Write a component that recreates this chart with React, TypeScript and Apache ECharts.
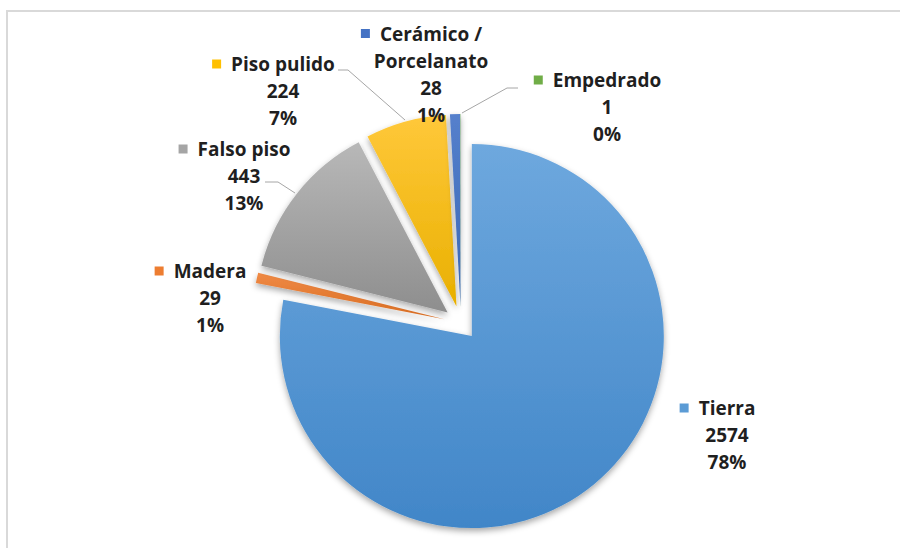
import React, { useEffect, useRef } from "react";
import * as echarts from "echarts";

const categories = ["Tierra", "Madera", "Falso piso", "Piso pulido", "Cerámico /\nPorcelanato", "Empedrado"];
const values = [2574, 29, 443, 224, 28, 1];
const colors = ["#5B9BD5", "#ED7D31", "#A5A5A5", "#FFC000", "#4472C4", "#70AD47"];
const topColors = ["#6ea8de", "#f08a45", "#b8b8b8", "#ffc83a", "#5580cc", "#7dba55"];
const bottomColors = ["#4186c8", "#d96d22", "#8e8e8e", "#e9b000", "#3a66b5", "#5f9a3b"];

// label block centres (layout only)
const labelPos: [number, number][] = [
  [727, 435],
  [210, 298],
  [244, 176],
  [283, 91],
  [431, 74],
  [607, 107],
];
const leaderLines: ([number, number][] | null)[] = [
  null,
  null,
  [[295, 193], [278, 182], [265, 182]],
  [[405, 120], [348, 70], [338, 70]],
  null,
  [[462, 113], [507, 88], [518, 88]],
];

const FONT = "'Open Sans'";
const CENTER: [number, number] = [461, 323];
const RADIUS = 192;

export default function App() {
  const ref = useRef<HTMLDivElement>(null);
  useEffect(() => {
    if (!ref.current) return;
    const chart = echarts.init(ref.current, null, { renderer: "svg" });
    const rich: any = {
      t: { fontFamily: FONT, fontWeight: "bold", fontSize: 19, color: "#1f1f1f", lineHeight: 27, align: "center" },
      g: { width: 10, lineHeight: 27, align: "center", fontSize: 10 },
      g2: { width: 19, lineHeight: 27, align: "center", fontSize: 10 },
    };
    colors.forEach((c, i) => {
      rich["m" + i] = { width: 9, height: 9, backgroundColor: c, lineHeight: 27, align: "center", fontSize: 9 };
    });
    const sliceData = categories.map((name, i) => ({
      name,
      value: values[i],
      selected: true,
      itemStyle: {
        color: new echarts.graphic.LinearGradient(0, 0, 0, 1, [
          { offset: 0, color: topColors[i] },
          { offset: 1, color: bottomColors[i] },
        ]),
      },
    }));
    const labelData = categories.map((name, i) => ({
      name,
      value: values[i],
      labelLine: { show: leaderLines[i] != null },
    }));
    chart.setOption({
      animation: false,
      backgroundColor: "#ffffff",
      graphic: [
        {
          type: "rect",
          shape: { x: 7, y: 11, width: 1000, height: 1000 },
          style: { fill: "none", stroke: "#d9d9d9", lineWidth: 2 },
          silent: true,
        },
      ],
      series: [
        {
          type: "pie",
          center: CENTER,
          radius: RADIUS,
          startAngle: 90,
          clockwise: true,
          selectedMode: "multiple",
          selectedOffset: 17,
          silent: true,
          z: 2,
          itemStyle: { shadowBlur: 6, shadowColor: "rgba(0,0,0,0.35)", shadowOffsetY: 3 },
          select: { itemStyle: { shadowBlur: 6, shadowColor: "rgba(0,0,0,0.35)", shadowOffsetY: 3 } },
          emphasis: { disabled: true },
          label: { show: false },
          labelLine: { show: false },
          data: sliceData,
        },
        {
          type: "pie",
          center: CENTER,
          radius: RADIUS,
          startAngle: 90,
          clockwise: true,
          silent: true,
          z: 5,
          avoidLabelOverlap: false,
          percentPrecision: 0,
          itemStyle: { color: "rgba(0,0,0,0)" },
          emphasis: { disabled: true },
          label: {
            show: true,
            position: "outside",
            formatter: (p: any) => {
              const lines = String(p.name).split("\n");
              let s = `{m${p.dataIndex}| }{g| }{t|${lines[0]}}{g2| }`;
              for (let k = 1; k < lines.length; k++) s += `\n{t|${lines[k]}}`;
              s += `\n{t|${p.value}}\n{t|${p.percent}%}`;
              return s;
            },
            rich,
          },
          labelLine: { show: true, lineStyle: { color: "#a6a6a6", width: 1 } },
          labelLayout: (params: any) => {
            const i = params.dataIndex;
            const o: any = { x: labelPos[i][0], y: labelPos[i][1], align: "center", verticalAlign: "middle" };
            if (leaderLines[i]) o.labelLinePoints = leaderLines[i];
            return o;
          },
          data: labelData,
        },
      ],
    });
    return () => chart.dispose();
  }, []);
  return <div ref={ref} style={{ position: "absolute", left: 0, top: 0, width: 900, height: 548 }} />;
}
